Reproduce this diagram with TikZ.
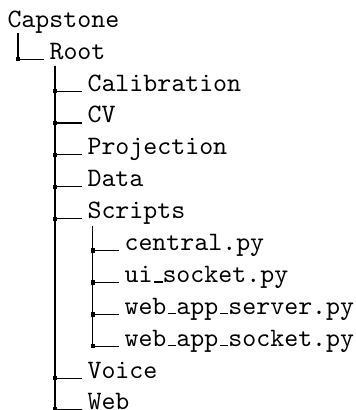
\documentclass[tikz,border=0pt]{standalone}
\newcommand\usc{\leavevmode\kern.06em\vbox{\hrule width.3em}}
\newcommand\dirfont{\fontencoding{OT1}\fontfamily{cmtt}\fontsize{10}{12}\selectfont}
\begin{document}
\begin{tikzpicture}[x=0.3759pt,y=-0.3759pt,
  entry/.style={anchor=base west,inner sep=0pt,font=\dirfont},
  branch/.style={line width=0.4pt},
  dot/.style={fill=black}]
\useasboundingbox (0,0) rectangle (355,410);
% directory entries
\node[entry] (cap) at (7,27.3) {Capstone};
\node[entry] (root) at (49,59.2) {Root};
\node[entry] (cal) at (87,91.1) {Calibration};
\node[entry] (cv) at (87,123) {CV};
\node[entry] (proj) at (87,154.9) {Projection};
\node[entry] (data) at (87,186.8) {Data};
\node[entry] (scr) at (87,218.7) {Scripts};
\node[entry] (central) at (124,250.6) {central.py};
\node[entry] (ui) at (124,282.5) {ui\usc socket.py};
\node[entry] (srv) at (124,314.4) {web\usc app\usc server.py};
\node[entry] (sock) at (124,346.3) {web\usc app\usc socket.py};
\node[entry] (voice) at (87,378.2) {Voice};
\node[entry] (web) at (87,409.2) {Web};
% tops of the vertical branch lines
\coordinate (capv) at (18,33);
\coordinate (rootv) at (55,66);
\coordinate (scrv) at (92.7,226);
% branches
\foreach \p/\c in {capv/root,rootv/cal,rootv/cv,rootv/proj,rootv/data,rootv/scr,
                   scrv/central,scrv/ui,scrv/srv,scrv/sock,rootv/voice,rootv/web}{
  \draw[branch] (\p) |- ([xshift=-2pt]\c.base west);
  \fill[dot] (\p |- \c.base west) ++(-2.15,-2.15) rectangle ++(4.3,4.3);
}
\end{tikzpicture}
\end{document}
